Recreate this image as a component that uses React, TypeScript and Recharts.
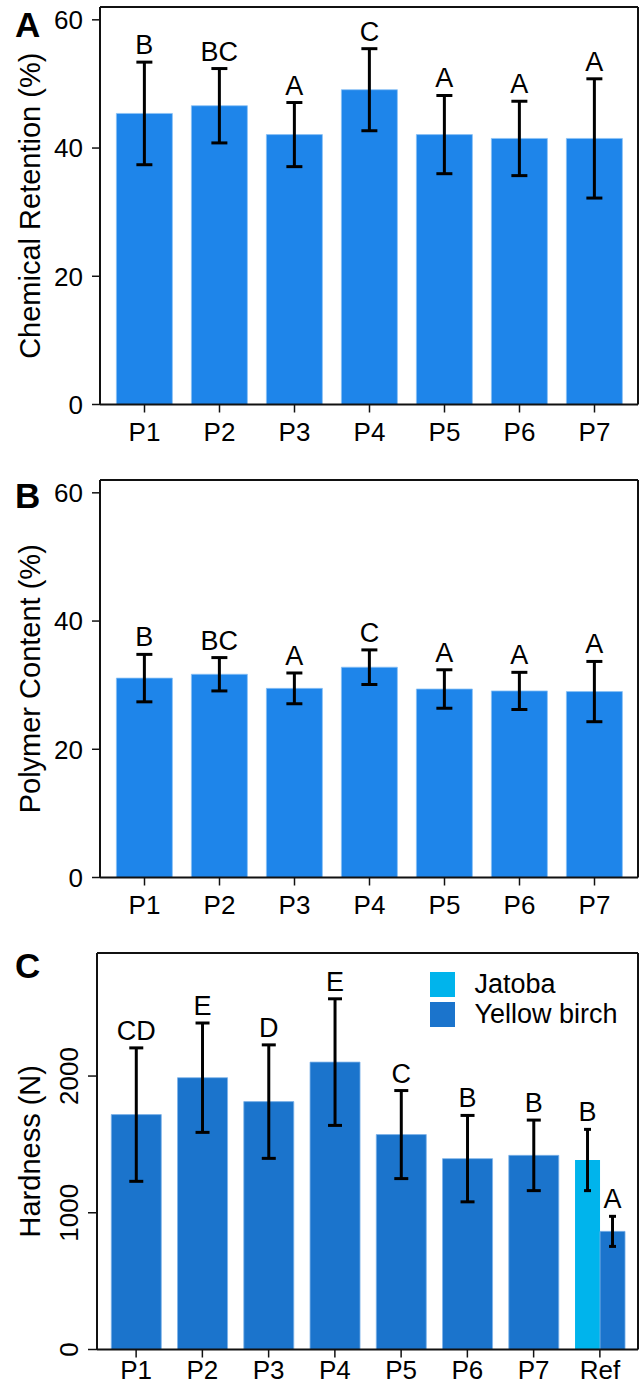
import React from 'react';
import { BarChart, Bar, XAxis, YAxis, ErrorBar, LabelList, Legend } from 'recharts';

const FONT = '"Liberation Sans", Arial, Helvetica, sans-serif';

// Panel A / B categories
const treatments = ['P1', 'P2', 'P3', 'P4', 'P5', 'P6', 'P7'];

// A: chemical retention (%)
const retentionMean = [45.4, 46.6, 42.1, 49.1, 42.1, 41.5, 41.5];
const retentionErr = [8.0, 5.8, 5.0, 6.4, 6.1, 5.8, 9.3];
const retentionLetters = ['B', 'BC', 'A', 'C', 'A', 'A', 'A'];

// B: polymer content (%)
const polymerMean = [31.1, 31.7, 29.5, 32.8, 29.4, 29.1, 29.0];
const polymerErr = [3.7, 2.6, 2.4, 2.7, 3.0, 2.9, 4.7];
const polymerLetters = ['B', 'BC', 'A', 'C', 'A', 'A', 'A'];

// C: hardness (N)
const hardnessMean = [1718, 1988, 1813, 2102, 1572, 1396, 1420];
const hardnessErr = [488, 400, 415, 463, 322, 316, 258];
const hardnessLetters = ['CD', 'E', 'D', 'E', 'C', 'B', 'B'];

const refCategory = 'Ref';
const refSpecies = ['Jatoba', 'Yellow birch'];
const refMean = [1386, 864];
const refErr = [224, 110];
const refLetters = ['B', 'A'];

const BAR_BLUE = '#1e85ea';
const BIRCH = '#1b74cc';
const JATOBA = '#00b4ec';
const AXIS = '#111';

const percentRows = (means: number[], errs: number[], letters: string[]) =>
  treatments.map((name, i) => ({ name, mean: means[i], err: errs[i], letter: letters[i] }));

const retentionRows = percentRows(retentionMean, retentionErr, retentionLetters);
const polymerRows = percentRows(polymerMean, polymerErr, polymerLetters);

const hardnessRows: any[] = [
  ...treatments.map((name, i) => ({
    name,
    single: hardnessMean[i],
    singleErr: hardnessErr[i],
    singleLetter: hardnessLetters[i],
  })),
  {
    name: refCategory,
    jatoba: refMean[0],
    jatobaErr: refErr[0],
    jatobaLetter: refLetters[0],
    birch: refMean[1],
    birchErr: refErr[1],
    birchLetter: refLetters[1],
  },
];

// letter drawn a little above the top of the error bar
function LetterLabel(props: any) {
  const vb = props.viewBox || props;
  const info = props.value;
  if (!info || info.mean == null || !vb) return null;
  const { x, y, width, height } = vb;
  if (!height || !isFinite(height) || !isFinite(y)) return null;
  const ppu = height / info.mean;
  const top = y - info.err * ppu;
  return (
    <text x={x + width / 2} y={top - 8} textAnchor="middle" fontSize={27} fontFamily={FONT} fill="#000">
      {info.letter}
    </text>
  );
}

const yLabel = (text: string) => (props: any) => {
  const vb = props.viewBox;
  const cx = vb.x + 40;
  const cy = vb.y + vb.height / 2;
  return (
    <text x={cx} y={cy} transform={`rotate(-90, ${cx}, ${cy})`} textAnchor="middle" fontSize={29} fontFamily={FONT} fill="#000">
      {text}
    </text>
  );
};

function LeftTick(props: any) {
  const { x, y, payload } = props;
  return (
    <text x={x} y={y} dy="0.36em" textAnchor="end" fontSize={26} fontFamily={FONT} fill="#000">
      {payload.value}
    </text>
  );
}

function RotatedTick(props: any) {
  const { x, y, payload } = props;
  return (
    <text x={x} y={y} transform={`rotate(-90, ${x}, ${y})`} textAnchor="middle" fontSize={26} fontFamily={FONT} fill="#000">
      {payload.value}
    </text>
  );
}

function HardnessLegend(props: any) {
  const items = (props.payload || []).filter((p: any) => p.type !== 'none');
  return (
    <div style={{ fontFamily: FONT, fontSize: 27, color: '#000' }}>
      {items.map((p: any, i: number) => (
        <div key={i} style={{ display: 'flex', alignItems: 'center', height: 25, marginBottom: 4.7 }}>
          <span style={{ width: 25, height: 25, background: p.color, display: 'inline-block' }} />
          <span style={{ marginLeft: 19.5, lineHeight: '25px', whiteSpace: 'nowrap' }}>{p.value}</span>
        </div>
      ))}
    </div>
  );
}

const tickStyle = { fontSize: 26, fontFamily: FONT, fill: '#000' };
const axisLine = { stroke: AXIS, strokeWidth: 2 };

function PercentPanel({ rows, label }: { rows: any[]; label: string }) {
  return (
    <BarChart
      width={640}
      height={473}
      data={rows}
      margin={{ top: 6, right: 1, left: 0, bottom: 0 }}
      barCategoryGap="12.5%"
    >
      <XAxis xAxisId="top" orientation="top" dataKey="name" height={1} tick={false} tickLine={false} axisLine={axisLine} padding={{ left: 7, right: 6 }} />
      <XAxis
        dataKey="name"
        height={68.5}
        tickSize={8}
        tickMargin={10}
        tick={tickStyle}
        tickLine={{ stroke: AXIS, strokeWidth: 1.5 }}
        axisLine={axisLine}
        padding={{ left: 7, right: 6 }}
      />
      <YAxis
        domain={[0, 62]}
        ticks={[0, 20, 40, 60]}
        width={100}
        tickSize={8}
        tickMargin={9}
        tick={<LeftTick />}
        tickLine={{ stroke: AXIS, strokeWidth: 1.5 }}
        axisLine={axisLine}
        label={{ content: yLabel(label) } as any}
      />
      <YAxis yAxisId="right" orientation="right" width={1} tick={false} tickLine={false} axisLine={axisLine} />
      <Bar dataKey="mean" fill={BAR_BLUE} stroke="#8cc1f5" strokeWidth={0.8} isAnimationActive={false}>
        <ErrorBar dataKey="err" width={8} strokeWidth={3} stroke="#000" />
        <LabelList dataKey={(d: any) => ({ mean: d.mean, err: d.err, letter: d.letter })} content={LetterLabel} />
      </Bar>
    </BarChart>
  );
}

function HardnessPanel() {
  return (
    <BarChart
      width={640}
      height={445}
      data={hardnessRows}
      margin={{ top: 6, right: 1, left: 0, bottom: 0 }}
      barCategoryGap="12.5%"
      barGap={0}
    >
      <XAxis xAxisId="top" orientation="top" dataKey="name" height={1} tick={false} tickLine={false} axisLine={axisLine} padding={{ left: 6, right: 5 }} />
      <XAxis
        xAxisId="bottom"
        dataKey="name"
        height={41.5}
        tickSize={8}
        tickMargin={3}
        tick={tickStyle}
        tickLine={{ stroke: AXIS, strokeWidth: 1.5 }}
        axisLine={axisLine}
        padding={{ left: 6, right: 5 }}
      />
      <YAxis
        domain={[0, 2900]}
        ticks={[0, 1000, 2000]}
        width={97}
        tickSize={9}
        tickMargin={10}
        tick={<RotatedTick />}
        tickLine={{ stroke: AXIS, strokeWidth: 1.5 }}
        axisLine={axisLine}
        label={{ content: yLabel('Hardness (N)') } as any}
      />
      <YAxis yAxisId="right" orientation="right" width={1} tick={false} tickLine={false} axisLine={axisLine} />
      <Legend
        layout="vertical"
        align="center"
        verticalAlign="middle"
        content={HardnessLegend}
        wrapperStyle={{ left: 430, top: 26, width: 210 }}
      />
      <Bar xAxisId="bottom" dataKey="single" legendType="none" fill={BIRCH} stroke="#7db3e8" strokeWidth={0.8} isAnimationActive={false}>
        <ErrorBar dataKey="singleErr" width={7} strokeWidth={3} stroke="#000" />
        <LabelList
          dataKey={(d: any) => (d.single == null ? null : { mean: d.single, err: d.singleErr, letter: d.singleLetter })}
          content={LetterLabel}
        />
      </Bar>
      <Bar xAxisId="top" dataKey="jatoba" name={refSpecies[0]} fill={JATOBA} isAnimationActive={false}>
        <ErrorBar dataKey="jatobaErr" width={3.5} strokeWidth={3} stroke="#000" />
        <LabelList
          dataKey={(d: any) => (d.jatoba == null ? null : { mean: d.jatoba, err: d.jatobaErr, letter: d.jatobaLetter })}
          content={LetterLabel}
        />
      </Bar>
      <Bar xAxisId="top" dataKey="birch" name={refSpecies[1]} fill={BIRCH} stroke="#7db3e8" strokeWidth={0.8} isAnimationActive={false}>
        <ErrorBar dataKey="birchErr" width={3.5} strokeWidth={3} stroke="#000" />
        <LabelList
          dataKey={(d: any) => (d.birch == null ? null : { mean: d.birch, err: d.birchErr, letter: d.birchLetter })}
          content={LetterLabel}
        />
      </Bar>
    </BarChart>
  );
}

const panelTitle = (top: number): React.CSSProperties => ({
  position: 'absolute',
  left: 15,
  top,
  fontFamily: FONT,
  fontWeight: 'bold',
  fontSize: 35,
  lineHeight: '35px',
  color: '#000',
});

export default function App() {
  return (
    <div style={{ position: 'absolute', left: 0, top: 0, width: 640, height: 1391, background: '#fff', overflow: 'hidden' }}>
      <div style={{ position: 'absolute', left: 0, top: 0 }}>
        <PercentPanel rows={retentionRows} label="Chemical Retention (%)" />
      </div>
      <div style={{ position: 'absolute', left: 0, top: 473 }}>
        <PercentPanel rows={polymerRows} label="Polymer Content (%)" />
      </div>
      <div style={{ position: 'absolute', left: 0, top: 946 }}>
        <HardnessPanel />
      </div>
      <div style={panelTitle(7)}>A</div>
      <div style={panelTitle(478)}>B</div>
      <div style={panelTitle(948)}>C</div>
    </div>
  );
}
